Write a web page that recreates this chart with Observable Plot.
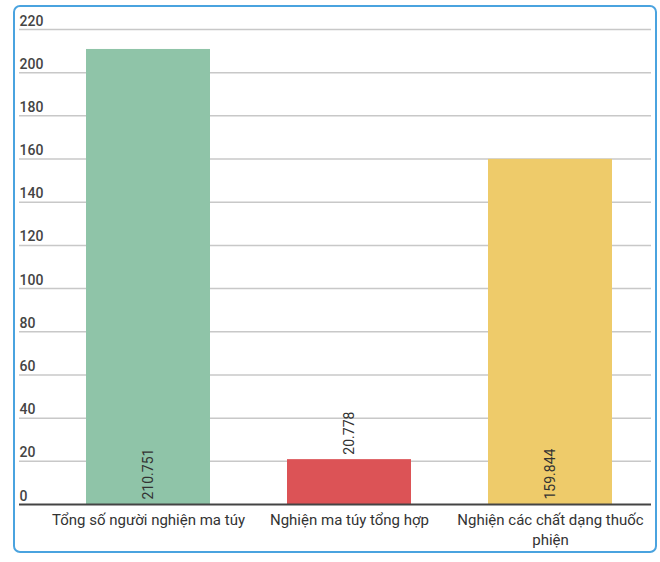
<!DOCTYPE html>
<html>
<head>
<meta charset="utf-8">
<script src="https://cdn.jsdelivr.net/npm/d3@7"></script>
<script src="https://cdn.jsdelivr.net/npm/@observablehq/plot@0.6"></script>
<style>
  html, body { margin: 0; padding: 0; background: #fff; }
  #wrap { position: relative; width: 660px; height: 562px; }
  #frame { position: absolute; left: 13px; top: 5px; width: 640px; height: 544px;
           border: 2px solid #4aa3df; border-radius: 7px; pointer-events: none; }
  svg { display: block; }
</style>
</head>
<body>
<div id="wrap"><div id="frame"></div></div>
<script>
const categories = ["Tổng số người nghiện ma túy", "Nghiện ma túy tổng hợp", "Nghiện các chất dạng thuốc phiện"];
const values = [210.751, 20.778, 159.844];
const colors = ["#8fc4a8", "#dc5356", "#eecb6a"];
const yTicks = [0, 20, 40, 60, 80, 100, 120, 140, 160, 180, 200, 220];

const data = categories.map((c, i) => ({category: c, value: values[i], color: colors[i]}));
const fmt = d3.format(".3f");

const chart = Plot.plot({
  width: 660,
  height: 562,
  marginLeft: 19,
  marginRight: 9,
  marginTop: 29,
  marginBottom: 58,
  style: {fontFamily: "Roboto, sans-serif", fontSize: "14px", background: "transparent"},
  x: {domain: categories, range: [45.7, 651], paddingInner: 0.385, paddingOuter: 0.1925, label: null},
  y: {domain: [0, 220], label: null, axis: null},
  marks: [
    Plot.ruleY(yTicks.filter(d => d > 0), {stroke: "#c8c8c8", strokeWidth: 1.5}),
    Plot.barY(data, {x: "category", y: "value", fill: "color"}),
    Plot.ruleY([0], {stroke: "#444", strokeWidth: 2}),
    Plot.text(yTicks, {y: d => d, text: d => String(d), frameAnchor: "left", textAnchor: "start",
      lineAnchor: "bottom", dy: -4, fontSize: 14, fontWeight: 500, fill: "#444"}),
    Plot.text(data, {x: "category", y: d => d.value > 100 ? 0 : d.value, text: d => fmt(d.value),
      rotate: -90, textAnchor: "start", dy: -5, fontSize: 14, fill: "#333"}),
    Plot.axisX({tickSize: 0, tickPadding: 6, fontSize: 15, lineWidth: 14.5, lineHeight: 1.35,
      fill: "#333", label: null})
  ]
});
document.getElementById("wrap").prepend(chart);
</script>
</body>
</html>
